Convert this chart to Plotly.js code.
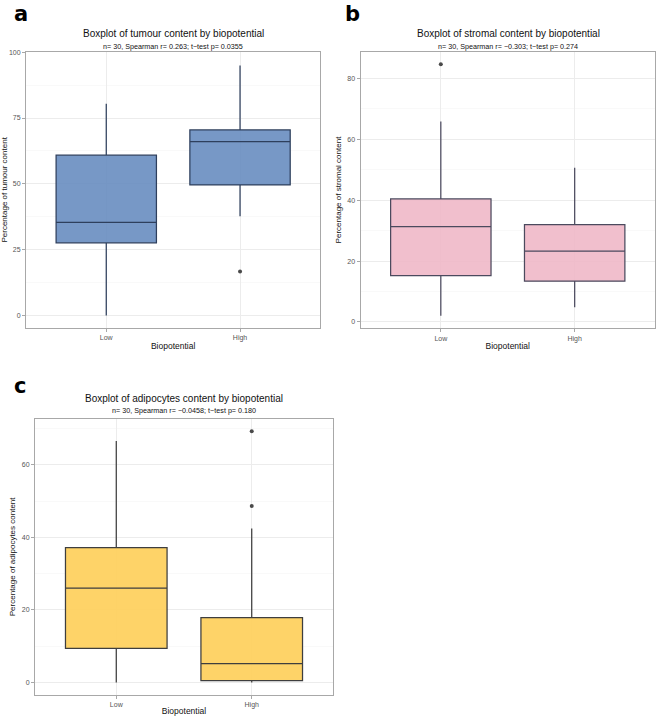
<!DOCTYPE html>
<html>
<head>
<meta charset="utf-8">
<script src="https://cdn.plot.ly/plotly-3.0.1.min.js"></script>
<style>html,body{margin:0;padding:0;background:#fff;}#chart{width:660px;height:716px;}</style>
</head>
<body>
<div id="chart"></div>
<script>
// ---- Data ----
const categories = ["Low", "High"];

// Panel a: tumour content
const tumourQ1 = [27.6, 49.6];
const tumourMedian = [35.4, 66.0];
const tumourQ3 = [60.9, 70.5];
const tumourLower = [0.0, 37.7];
const tumourUpper = [80.4, 95.0];
const tumourOutlierCats = ["High"];
const tumourOutliers = [16.7];

// Panel b: stromal content
const stromalQ1 = [15.2, 13.4];
const stromalMedian = [31.3, 23.3];
const stromalQ3 = [40.4, 32.0];
const stromalLower = [2.0, 4.8];
const stromalUpper = [65.9, 50.7];
const stromalOutlierCats = ["Low"];
const stromalOutliers = [84.7];

// Panel c: adipocytes content
const adipoQ1 = [9.4, 0.5];
const adipoMedian = [26.0, 5.2];
const adipoQ3 = [37.2, 17.9];
const adipoLower = [0.0, 0.0];
const adipoUpper = [66.6, 42.5];
const adipoOutlierCats = ["High", "High"];
const adipoOutliers = [48.7, 69.3];

const titles = [
  "Boxplot of tumour content by biopotential",
  "Boxplot of stromal content by biopotential",
  "Boxplot of adipocytes content by biopotential"
];
const subtitles = [
  "n= 30, Spearman r= 0.263; t\u2212test p= 0.0355",
  "n= 30, Spearman r= \u22120.303; t\u2212test p= 0.274",
  "n= 30, Spearman r= \u22120.0458; t\u2212test p= 0.180"
];
const yTitles = [
  "Percentage of tumour content",
  "Percentage of stromal content",
  "Percentage of adipocytes content"
];
const xTitle = "Biopotential";
const panelLetters = ["a", "b", "c"];

// ---- Styling ----
const FONT = "Liberation Sans, Arial, sans-serif";
const H = 716, W = 660;
const py = p => 1 - p / H;
const px = p => p / W;

function boxTrace(xa, ya, q1, med, q3, lo, hi, fill, line) {
  return {
    type: "box", xaxis: xa, yaxis: ya,
    x: categories, q1: q1, median: med, q3: q3,
    lowerfence: lo, upperfence: hi,
    width: 0.75, whiskerwidth: 0,
    fillcolor: fill,
    line: {color: line, width: 1.25},
    boxpoints: false, showlegend: false, hoverinfo: "skip"
  };
}
function outlierTrace(xa, ya, xs, ys) {
  return {
    type: "scatter", mode: "markers", xaxis: xa, yaxis: ya,
    x: xs, y: ys,
    marker: {color: "#4a4a4a", size: 4},
    showlegend: false, hoverinfo: "skip"
  };
}

const data = [
  boxTrace("x", "y", tumourQ1, tumourMedian, tumourQ3, tumourLower, tumourUpper, "rgba(100,138,190,0.88)", "#2e3f5c"),
  outlierTrace("x", "y", tumourOutlierCats, tumourOutliers),
  boxTrace("x2", "y2", stromalQ1, stromalMedian, stromalQ3, stromalLower, stromalUpper, "rgba(240,184,200,0.9)", "#4b4a5e"),
  outlierTrace("x2", "y2", stromalOutlierCats, stromalOutliers),
  boxTrace("x3", "y3", adipoQ1, adipoMedian, adipoQ3, adipoLower, adipoUpper, "rgba(254,209,96,0.95)", "#3e3e3e"),
  outlierTrace("x3", "y3", adipoOutlierCats, adipoOutliers)
];

function xAxis(domain, anchor) {
  return {
    domain: domain, anchor: anchor, type: "category",
    categoryorder: "array", categoryarray: categories,
    range: [-0.6, 1.6],
    showline: true, mirror: true, linecolor: "#a8a8a8", linewidth: 1,
    showgrid: true, gridcolor: "#ececec", gridwidth: 1,
    ticks: "outside", ticklen: 3, tickcolor: "#a8a8a8",
    tickfont: {family: FONT, size: 7, color: "#555"},
    zeroline: false, fixedrange: true,
    title: {text: xTitle, font: {family: FONT, size: 8.5, color: "#111"}, standoff: 1}
  };
}
function yAxis(domain, anchor, range, dtick, title) {
  return {
    domain: domain, anchor: anchor, range: range,
    tick0: 0, dtick: dtick,
    showline: true, mirror: true, linecolor: "#a8a8a8", linewidth: 1,
    showgrid: true, gridcolor: "#ececec", gridwidth: 1,
    minor: {tick0: dtick / 2, dtick: dtick, showgrid: true, gridcolor: "#f5f5f5", gridwidth: 0.6, ticks: ""},
    ticks: "outside", ticklen: 3, tickcolor: "#a8a8a8",
    tickfont: {family: FONT, size: 7, color: "#555"},
    zeroline: false, fixedrange: true,
    title: {text: title, font: {family: FONT, size: 8, color: "#111"}, standoff: 4}
  };
}

const ann = [];
function addPanelText(cx, titleY, subY, letterX, letterY, i) {
  ann.push({xref: "paper", yref: "paper", x: cx, y: py(titleY), text: titles[i], showarrow: false,
    xanchor: "center", yanchor: "middle", font: {family: FONT, size: 10, color: "#111"}});
  ann.push({xref: "paper", yref: "paper", x: cx, y: py(subY), text: subtitles[i], showarrow: false,
    xanchor: "center", yanchor: "middle", font: {family: FONT, size: 7.2, color: "#111"}});
  ann.push({xref: "paper", yref: "paper", x: px(letterX), y: py(letterY), text: "<b>" + panelLetters[i] + "</b>", showarrow: false,
    xanchor: "left", yanchor: "middle", font: {family: "DejaVu Sans, sans-serif", size: 21, color: "#000"}});
}
addPanelText(px(173), 34, 46, 12, 14, 0);
addPanelText(px(508), 34, 46, 343, 14, 1);
addPanelText(px(184), 399, 410, 12, 386, 2);

const layout = {
  width: W, height: H,
  margin: {l: 0, r: 0, t: 0, b: 0},
  paper_bgcolor: "#fff", plot_bgcolor: "#fff",
  showlegend: false,
  xaxis: xAxis([px(26), px(320.3)], "y"),
  yaxis: yAxis([py(328), py(51.7)], "x", [-4.75, 100.2], 25, yTitles[0]),
  xaxis2: xAxis([px(360.5), px(655)], "y2"),
  yaxis2: yAxis([py(328.3), py(51.7)], "x2", [-2.1, 88.8], 20, yTitles[1]),
  xaxis3: xAxis([px(35), px(333)], "y3"),
  yaxis3: yAxis([py(695), py(418.7)], "x3", [-3.47, 72.77], 20, yTitles[2]),
  annotations: ann
};

Plotly.newPlot("chart", data, layout, {displayModeBar: false, staticPlot: true});
</script>
</body>
</html>
